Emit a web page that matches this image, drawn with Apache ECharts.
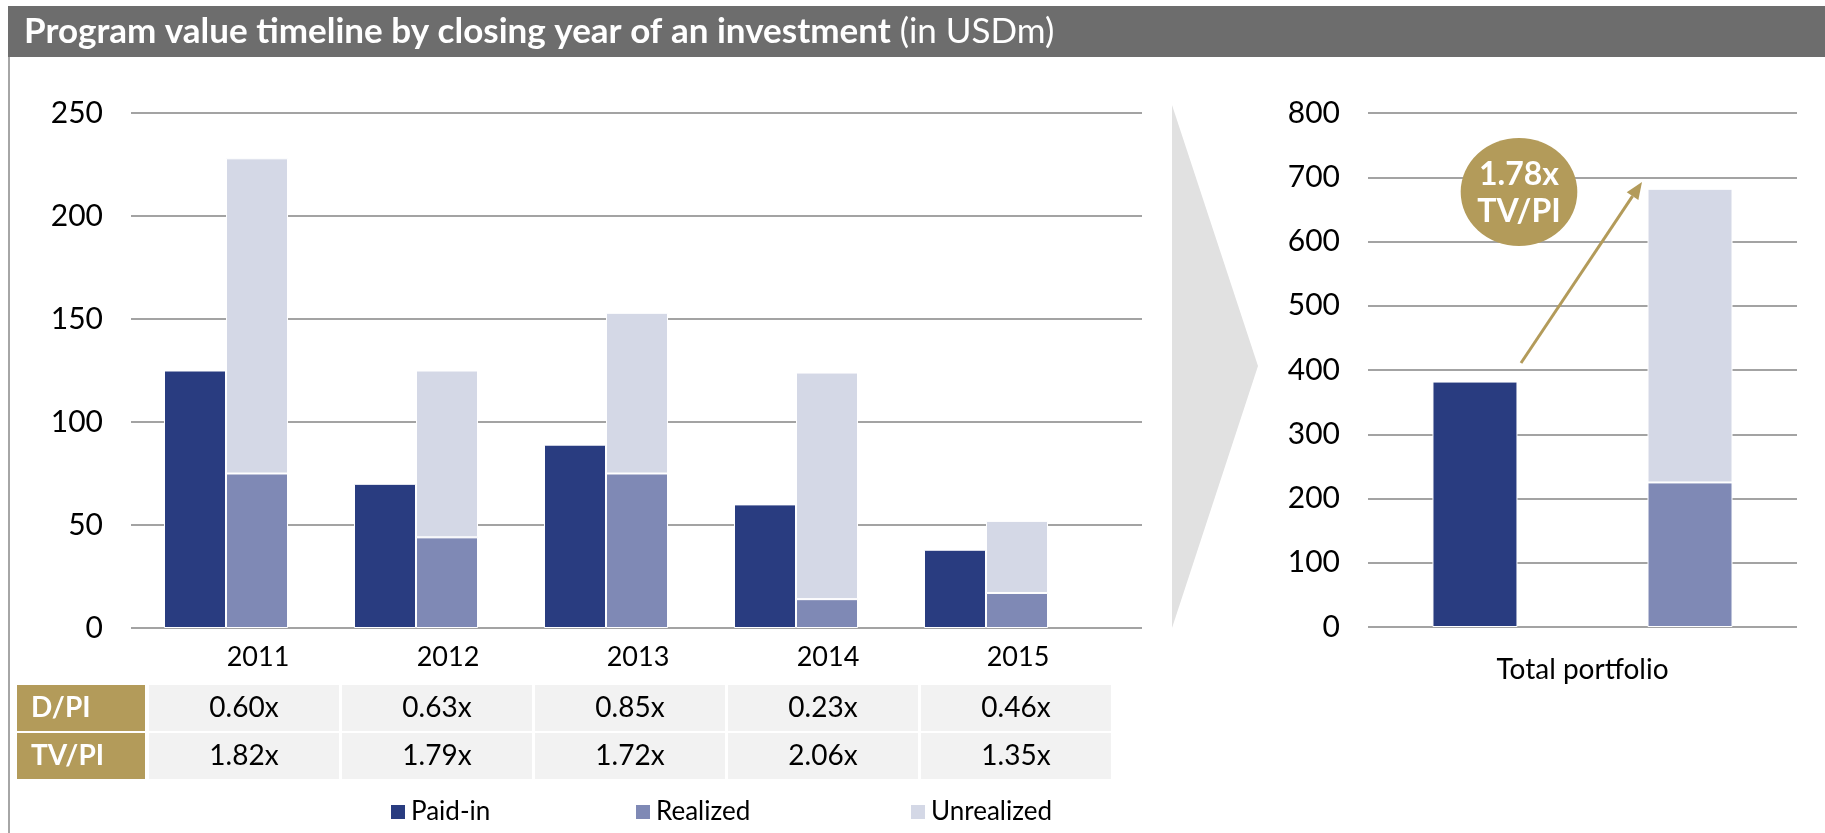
<!DOCTYPE html>
<html>
<head>
<meta charset="utf-8">
<script src="https://cdn.jsdelivr.net/npm/echarts@6/dist/echarts.min.js"></script>
<style>
  html, body { margin: 0; padding: 0; background: #fff; }
  #chart { width: 1825px; height: 833px; }
</style>
</head>
<body>
<div id="chart"></div>
<script>
// 数据：按投资年份
const years = ['2011', '2012', '2013', '2014', '2015'];
const paidIn = [125, 70, 89, 60, 38];
const realized = [75, 44, 75, 14, 17];
const unrealized = [153, 81, 78, 110, 35];
const dpi = [0.60, 0.63, 0.85, 0.23, 0.46];
const tvpi = [1.82, 1.79, 1.72, 2.06, 1.35];

// 总组合
const totalLabel = ['Total portfolio'];
const totalPaidIn = [382];
const totalRealized = [225];
const totalUnrealized = [457];
const totalTvpi = 1.78;

const FONT = 'Lato';
const GOLD = '#b39b5a';
const C_PAID = '#293c80';
const C_REAL = '#7f89b5';
const C_UNREAL = '#d4d8e6';
const GRID_LINE = { show: true, lineStyle: { color: '#a3a3a3', width: 2 } };

const dom = document.getElementById('chart');
const chart = echarts.init(dom);

// 表格 (D/PI, TV/PI)
function buildTable() {
    const els = [];
    const rows = [
        { name: 'D/PI', vals: dpi, y: 685 },
        { name: 'TV/PI', vals: tvpi, y: 733 }
    ];
    rows.forEach(function (r) {
        els.push({ type: 'rect', shape: { x: 17, y: r.y, width: 128, height: 46 }, style: { fill: GOLD } });
        els.push({
            type: 'text', x: 31, y: r.y + 23,
            style: { text: r.name, fill: '#fff', font: 'bold 28px ' + FONT, textVerticalAlign: 'middle' }
        });
        r.vals.forEach(function (v, i) {
            const x = 149 + i * 193;
            els.push({ type: 'rect', shape: { x: x, y: r.y, width: 190, height: 46 }, style: { fill: '#f2f2f2' } });
            els.push({
                type: 'text', x: x + 95, y: r.y + 23,
                style: { text: v.toFixed(2) + 'x', fill: '#000', font: '28px ' + FONT, textAlign: 'center', textVerticalAlign: 'middle' }
            });
        });
    });
    return els;
}

// 箭头 (1.78x TV/PI)
const arrowFrom = [1521, 363];
const arrowTo = [1642, 182];
function buildArrow() {
    const dx = arrowTo[0] - arrowFrom[0], dy = arrowTo[1] - arrowFrom[1];
    const len = Math.sqrt(dx * dx + dy * dy);
    const ux = dx / len, uy = dy / len;
    const bx = arrowTo[0] - 17 * ux, by = arrowTo[1] - 17 * uy;
    const nx = -uy, ny = ux;
    return [
        { type: 'line', shape: { x1: arrowFrom[0], y1: arrowFrom[1], x2: bx, y2: by }, style: { stroke: GOLD, lineWidth: 3 }, z: 10 },
        { type: 'polygon', shape: { points: [arrowTo, [bx + 7 * nx, by + 7 * ny], [bx - 7 * nx, by - 7 * ny]] }, style: { fill: GOLD }, z: 10 }
    ];
}

const option = {
    animation: false,
    textStyle: { fontFamily: FONT },
    graphic: [
        { type: 'rect', shape: { x: 8, y: 6, width: 1817, height: 51 }, style: { fill: '#6d6d6d' } },
        {
            type: 'text', x: 24, y: 32,
            style: {
                text: '{b|Program value timeline by closing year of an investment}{n| (in USDm)}',
                textVerticalAlign: 'middle',
                rich: {
                    b: { fontFamily: FONT, fontWeight: 'bold', fontSize: 35, fill: '#fff' },
                    n: { fontFamily: FONT, fontSize: 35, fill: '#fff' }
                }
            }
        },
        { type: 'line', shape: { x1: 9, y1: 57, x2: 9, y2: 833 }, style: { stroke: '#a6a6a6', lineWidth: 2 } },
        { type: 'polygon', shape: { points: [[1172, 105], [1258, 366], [1172, 628]] }, style: { fill: '#e1e1e1' } },
        {
            type: 'circle', x: 1519, y: 192, scaleX: 1.08, scaleY: 1,
            shape: { cx: 0, cy: 0, r: 54 }, style: { fill: GOLD }, z: 11
        },
        {
            type: 'text', x: 1519, y: 193, z: 12,
            style: {
                text: totalTvpi.toFixed(2) + 'x\nTV/PI', fill: '#fff', font: 'bold 32px ' + FONT,
                textAlign: 'center', textVerticalAlign: 'middle', lineHeight: 37
            }
        }
    ].concat(buildTable()).concat(buildArrow()),
    legend: [
        { data: ['Paid-in'], left: 389, top: 799 },
        { data: ['Realized'], left: 634, top: 799 },
        { data: ['Unrealized'], left: 909, top: 799 }
    ].map(function (l) {
        return Object.assign(l, {
            padding: 0, icon: 'rect', itemWidth: 16, itemHeight: 16, itemGap: 0,
            textStyle: { fontSize: 26, color: '#000', fontFamily: FONT }
        });
    }),
    grid: [
        { left: 131, top: 113, width: 950, height: 515 },   // 年份柱
        { left: 131, top: 113, width: 1011, height: 515 },  // 背景网格线
        { left: 1368, top: 113, width: 429, height: 514 }   // 总组合
    ],
    xAxis: [
        {
            type: 'category', gridIndex: 0, data: years,
            axisLine: { show: false }, axisTick: { show: false },
            axisLabel: { fontSize: 27, color: '#000', margin: 16, padding: [0, 0, 0, 64] }
        },
        { type: 'category', gridIndex: 1, show: false },
        {
            type: 'category', gridIndex: 2, data: totalLabel,
            axisLine: { show: false }, axisTick: { show: false },
            axisLabel: { fontSize: 28, color: '#000', margin: 29 }
        }
    ],
    yAxis: [
        { type: 'value', gridIndex: 0, min: 0, max: 250, interval: 50, show: false },
        {
            type: 'value', gridIndex: 1, min: 0, max: 250, interval: 50,
            axisLine: { show: false }, axisTick: { show: false },
            axisLabel: { fontSize: 30, color: '#000', margin: 28 },
            splitLine: GRID_LINE
        },
        {
            type: 'value', gridIndex: 2, min: 0, max: 800, interval: 100,
            axisLine: { show: false }, axisTick: { show: false },
            axisLabel: { fontSize: 30, color: '#000', margin: 28 },
            splitLine: GRID_LINE
        }
    ],
    series: [
        {
            name: 'Paid-in', type: 'bar', xAxisIndex: 0, yAxisIndex: 0, stack: 'pi',
            data: paidIn, barWidth: 62, barGap: '0%',
            itemStyle: { color: C_PAID, borderColor: '#fff', borderWidth: 1 }
        },
        {
            name: 'Realized', type: 'bar', xAxisIndex: 0, yAxisIndex: 0, stack: 'tv',
            data: realized, barWidth: 62, barGap: '0%',
            itemStyle: { color: C_REAL, borderColor: '#fff', borderWidth: 1 }
        },
        {
            name: 'Unrealized', type: 'bar', xAxisIndex: 0, yAxisIndex: 0, stack: 'tv',
            data: unrealized, barWidth: 62, barGap: '0%',
            itemStyle: { color: C_UNREAL, borderColor: '#fff', borderWidth: 1 }
        },
        {
            name: 'Paid-in', type: 'bar', xAxisIndex: 2, yAxisIndex: 2, stack: 'tpi',
            data: totalPaidIn, barWidth: 85, barGap: '153%',
            itemStyle: { color: C_PAID, borderColor: '#fff', borderWidth: 1 }
        },
        {
            name: 'Realized', type: 'bar', xAxisIndex: 2, yAxisIndex: 2, stack: 'ttv',
            data: totalRealized, barWidth: 85, barGap: '153%',
            itemStyle: { color: C_REAL, borderColor: '#fff', borderWidth: 1 }
        },
        {
            name: 'Unrealized', type: 'bar', xAxisIndex: 2, yAxisIndex: 2, stack: 'ttv',
            data: totalUnrealized, barWidth: 85, barGap: '153%',
            itemStyle: { color: C_UNREAL, borderColor: '#fff', borderWidth: 1 }
        }
    ]
};

chart.setOption(option);
</script>
</body>
</html>
